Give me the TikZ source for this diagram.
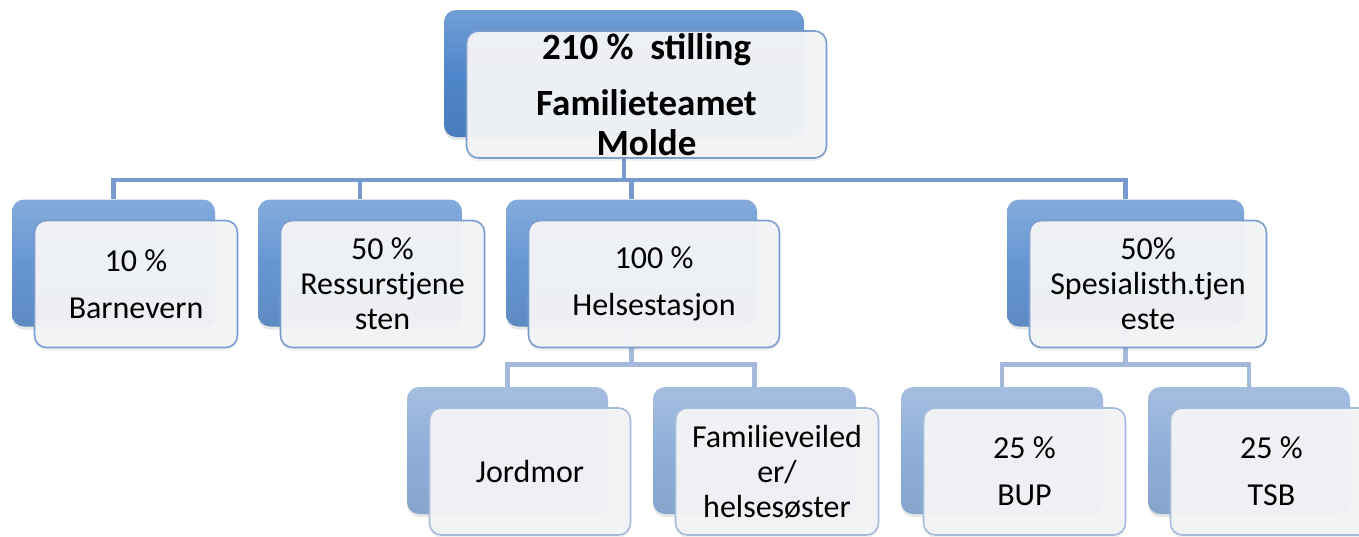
\documentclass[tikz,border=0pt]{standalone}
\usepackage{fontspec}
\setmainfont{Carlito}
\usepackage{xcolor}
\usetikzlibrary{positioning, shadows}

\definecolor{topblue}{RGB}{79,134,203}
\definecolor{midblue}{RGB}{102,150,210}
\definecolor{lowblue}{RGB}{143,174,216}
\definecolor{frontfill}{RGB}{243,244,246}
\definecolor{rimdark}{RGB}{122,157,205}
\definecolor{rimlight}{RGB}{166,188,221}
\definecolor{busdark}{RGB}{120,154,207}
\definecolor{buslight}{RGB}{163,184,219}

\pgfdeclarelayer{bg}
\pgfsetlayers{bg,main}

\begin{document}
\begin{tikzpicture}[x=1pt, y=-1pt]
\tikzstyle{base} = [rectangle, rounded corners=12pt, minimum height=127pt, inner sep=0pt]
\tikzstyle{backbox} = [base, top color=midblue!80!white, bottom color=midblue!92!black, middle color=midblue,
  drop shadow={opacity=0.2, fill=black!50, shadow xshift=0pt, shadow yshift=-3pt}]
\tikzstyle{backtop} = [backbox, top color=topblue!80!white, bottom color=topblue!92!black, middle color=topblue]
\tikzstyle{backlow} = [backbox, top color=lowblue!80!white, bottom color=lowblue!94!black, middle color=lowblue]
\tikzstyle{frontbox} = [base, draw=rimdark, line width=1.6pt, fill=frontfill, fill opacity=0.96, text opacity=1,
  align=center, xshift=22.5pt, yshift=-21pt, font=\fontsize{32}{47}\selectfont,
  drop shadow={opacity=0.12, fill=black!50, shadow xshift=0pt, shadow yshift=-3pt}]
\tikzstyle{frontlow} = [frontbox, draw=rimlight]
\tikzstyle{tight} = [font=\fontsize{32}{35}\selectfont]
\tikzstyle{line} = [draw, line width=4.5pt]

\useasboundingbox (0,0) rectangle (1359,536);

% top
\node [backtop, minimum width=360pt] (tb) at (624,73.5) {};
\node [frontbox, minimum width=360pt, font=\fontsize{37}{40}\selectfont\bfseries] (tf) at (tb)
  {210 \% \ stilling\\[16pt]Familieteamet\\Molde};

% second row
\node [backbox, minimum width=203pt] (b1) at (113.5,263) {};
\node [backbox, minimum width=204pt, right of=b1, node distance=246.5pt] (b2) {};
\node [backbox, minimum width=251pt, right of=b2, node distance=271.5pt] (b3) {};
\node [backbox, minimum width=237pt, right of=b3, node distance=494pt] (b4) {};

\node [frontbox, minimum width=203pt] (f1) at (b1) {10 \%\\Barnevern};
\node [frontbox, tight, minimum width=204pt] (f2) at (b2) {50 \%\\Ressurstjene\\sten};
\node [frontbox, minimum width=251pt] (f3) at (b3) {100 \%\\Helsestasjon};
\node [frontbox, tight, minimum width=237pt] (f4) at (b4) {50\%\\Spesialisth.tjen\\este};

% third row
\node [backlow, minimum width=201pt] (c1) at (507.5,450.5) {};
\node [backlow, minimum width=203pt, right of=c1, node distance=247pt] (c2) {};
\node [backlow, minimum width=202pt, right of=c2, node distance=247.5pt] (c3) {};
\node [backlow, minimum width=202pt, right of=c3, node distance=247pt] (c4) {};

\node [frontlow, minimum width=201pt] (g1) at (c1) {Jordmor};
\node [frontlow, tight, minimum width=203pt] (g2) at (c2) {Familieveiled\\er/\\helsesøster};
\node [frontlow, minimum width=202pt] (g3) at (c3) {25 \%\\BUP};
\node [frontlow, minimum width=202pt] (g4) at (c4) {25 \%\\TSB};

\begin{pgfonlayer}{bg}
\foreach \c in {b1,b2,b3,b4}
  \draw [line, busdark] (tb.south) -- ++(0,43) -| (\c.north);
\foreach \c in {c1,c2}
  \draw [line, buslight] (b3.south) -- ++(0,38) -| (\c.north);
\foreach \c in {c3,c4}
  \draw [line, buslight] (b4.south) -- ++(0,38) -| (\c.north);
\end{pgfonlayer}
\end{tikzpicture}
\end{document}
